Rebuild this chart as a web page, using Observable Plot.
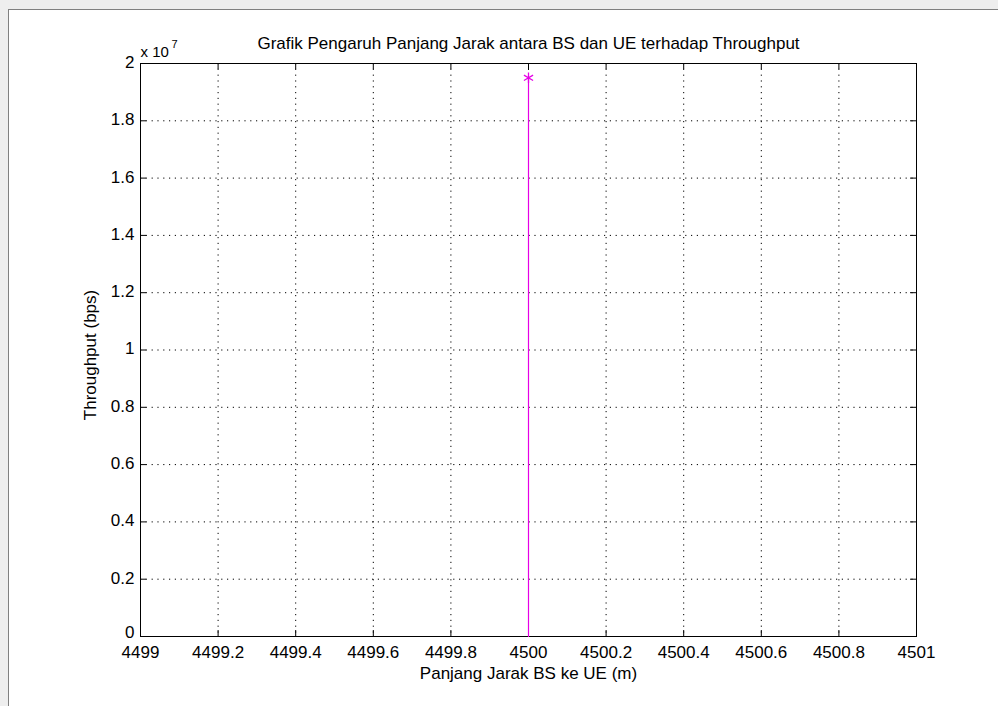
<!DOCTYPE html>
<html>
<head>
<meta charset="utf-8">
<script src="https://cdn.jsdelivr.net/npm/d3@7"></script>
<script src="https://cdn.jsdelivr.net/npm/@observablehq/plot@0.6"></script>
<style>
  html, body { margin: 0; padding: 0; }
  body { width: 998px; height: 706px; background: #eeeeee; position: relative; overflow: hidden; }
  #sheet { position: absolute; left: 8px; top: 9px; width: 990px; height: 697px; background: #fff;
           border-left: 1px solid #808080; border-top: 1px solid #808080; }
  #chart { position: absolute; left: 0; top: 0; }
  #chart svg { background: transparent; }
</style>
</head>
<body>
<div id="sheet"></div>
<div id="chart"></div>
<script>
// Distance between BS and UE (m) and the measured throughput (bps)
const jarak = [4500, 4500];
const throughput = [0, 19500000];

// Axis ticks and their labels
const xTicks = [4499, 4499.2, 4499.4, 4499.6, 4499.8, 4500, 4500.2, 4500.4, 4500.6, 4500.8, 4501];
const xTickLabels = ["4499", "4499.2", "4499.4", "4499.6", "4499.8", "4500", "4500.2", "4500.4", "4500.6", "4500.8", "4501"];
const yTicks = [0, 2e6, 4e6, 6e6, 8e6, 1e7, 1.2e7, 1.4e7, 1.6e7, 1.8e7, 2e7];
const yTickLabels = ["0", "0.2", "0.4", "0.6", "0.8", "1", "1.2", "1.4", "1.6", "1.8", "2"];

const titleText = "Grafik Pengaruh Panjang Jarak antara BS dan UE terhadap Throughput";
const xLabel = "Panjang Jarak BS ke UE (m)";
const yLabel = "Throughput (bps)";

const data = jarak.map((d, i) => ({jarak: d, throughput: throughput[i]}));
const peak = [data.reduce((a, b) => (b.throughput > a.throughput ? b : a))];

const W = 998, H = 706;
const mTop = 63, mRight = 82, mBottom = 70, mLeft = 140;
const innerH = H - mTop - mBottom;
const innerW = W - mLeft - mRight;
const tickLen = 6;
const font = "Liberation Sans, Arial, sans-serif";
const magenta = "#e600e6";
const fs = 17;

const xFmt = d => xTickLabels[xTicks.indexOf(d)];
const yFmt = d => yTickLabels[yTicks.indexOf(d)];

const chart = Plot.plot({
  width: W,
  height: H,
  marginTop: mTop,
  marginRight: mRight,
  marginBottom: mBottom,
  marginLeft: mLeft,
  style: {fontFamily: font, fontSize: fs + "px", color: "#000", background: "transparent"},
  x: {domain: [4499, 4501]},
  y: {domain: [0, 2e7]},
  marks: [
    // dotted grid
    Plot.gridX(xTicks.slice(1, -1), {stroke: "#000", strokeOpacity: 1, strokeDasharray: "1.2,4.6"}),
    Plot.gridY(yTicks.slice(1, -1), {stroke: "#000", strokeOpacity: 1, strokeDasharray: "1.2,4.6"}),
    // inward ticks on all four sides
    Plot.tickX(xTicks, {x: d => d, stroke: "#000", insetTop: innerH - tickLen}),
    Plot.tickX(xTicks, {x: d => d, stroke: "#000", insetBottom: innerH - tickLen}),
    Plot.tickY(yTicks, {y: d => d, stroke: "#000", insetRight: innerW - tickLen}),
    Plot.tickY(yTicks, {y: d => d, stroke: "#000", insetLeft: innerW - tickLen}),
    // tick labels (the zero label sits a little higher, clear of the x labels)
    Plot.axisX(xTicks, {anchor: "bottom", tickSize: 0, tickPadding: 9, tickFormat: xFmt, fontSize: fs, label: null}),
    Plot.axisY(yTicks.slice(1), {anchor: "left", tickSize: 0, tickPadding: 6, tickFormat: yFmt, fontSize: fs, dy: -1, label: null}),
    Plot.axisY(yTicks.slice(0, 1), {anchor: "left", tickSize: 0, tickPadding: 6, tickFormat: yFmt, fontSize: fs, dy: -4, label: null}),
    Plot.frame({stroke: "#000", strokeWidth: 1}),
    // throughput trace
    Plot.line(data, {x: "jarak", y: "throughput", stroke: magenta, strokeWidth: 1.2}),
    Plot.dot(peak, {x: "jarak", y: "throughput", symbol: "asterisk", r: 5, stroke: magenta, strokeWidth: 1.3}),
    // titles
    Plot.text([titleText], {frameAnchor: "top", dy: -15, lineAnchor: "bottom", fontSize: fs, text: d => d}),
    Plot.text(["x 10"], {frameAnchor: "top-left", textAnchor: "start", lineAnchor: "bottom", dy: -7, fontSize: 15, text: d => d}),
    Plot.text(["7"], {frameAnchor: "top-left", textAnchor: "start", lineAnchor: "bottom", dx: 31, dy: -16, fontSize: 11, text: d => d}),
    Plot.text([xLabel], {frameAnchor: "bottom", lineAnchor: "middle", dy: 37, fontSize: fs, text: d => d}),
    Plot.text([yLabel], {frameAnchor: "left", textAnchor: "middle", lineAnchor: "middle", rotate: -90, dx: -50, dy: 5, fontSize: fs, text: d => d})
  ]
});

document.getElementById("chart").appendChild(chart);
</script>
</body>
</html>
